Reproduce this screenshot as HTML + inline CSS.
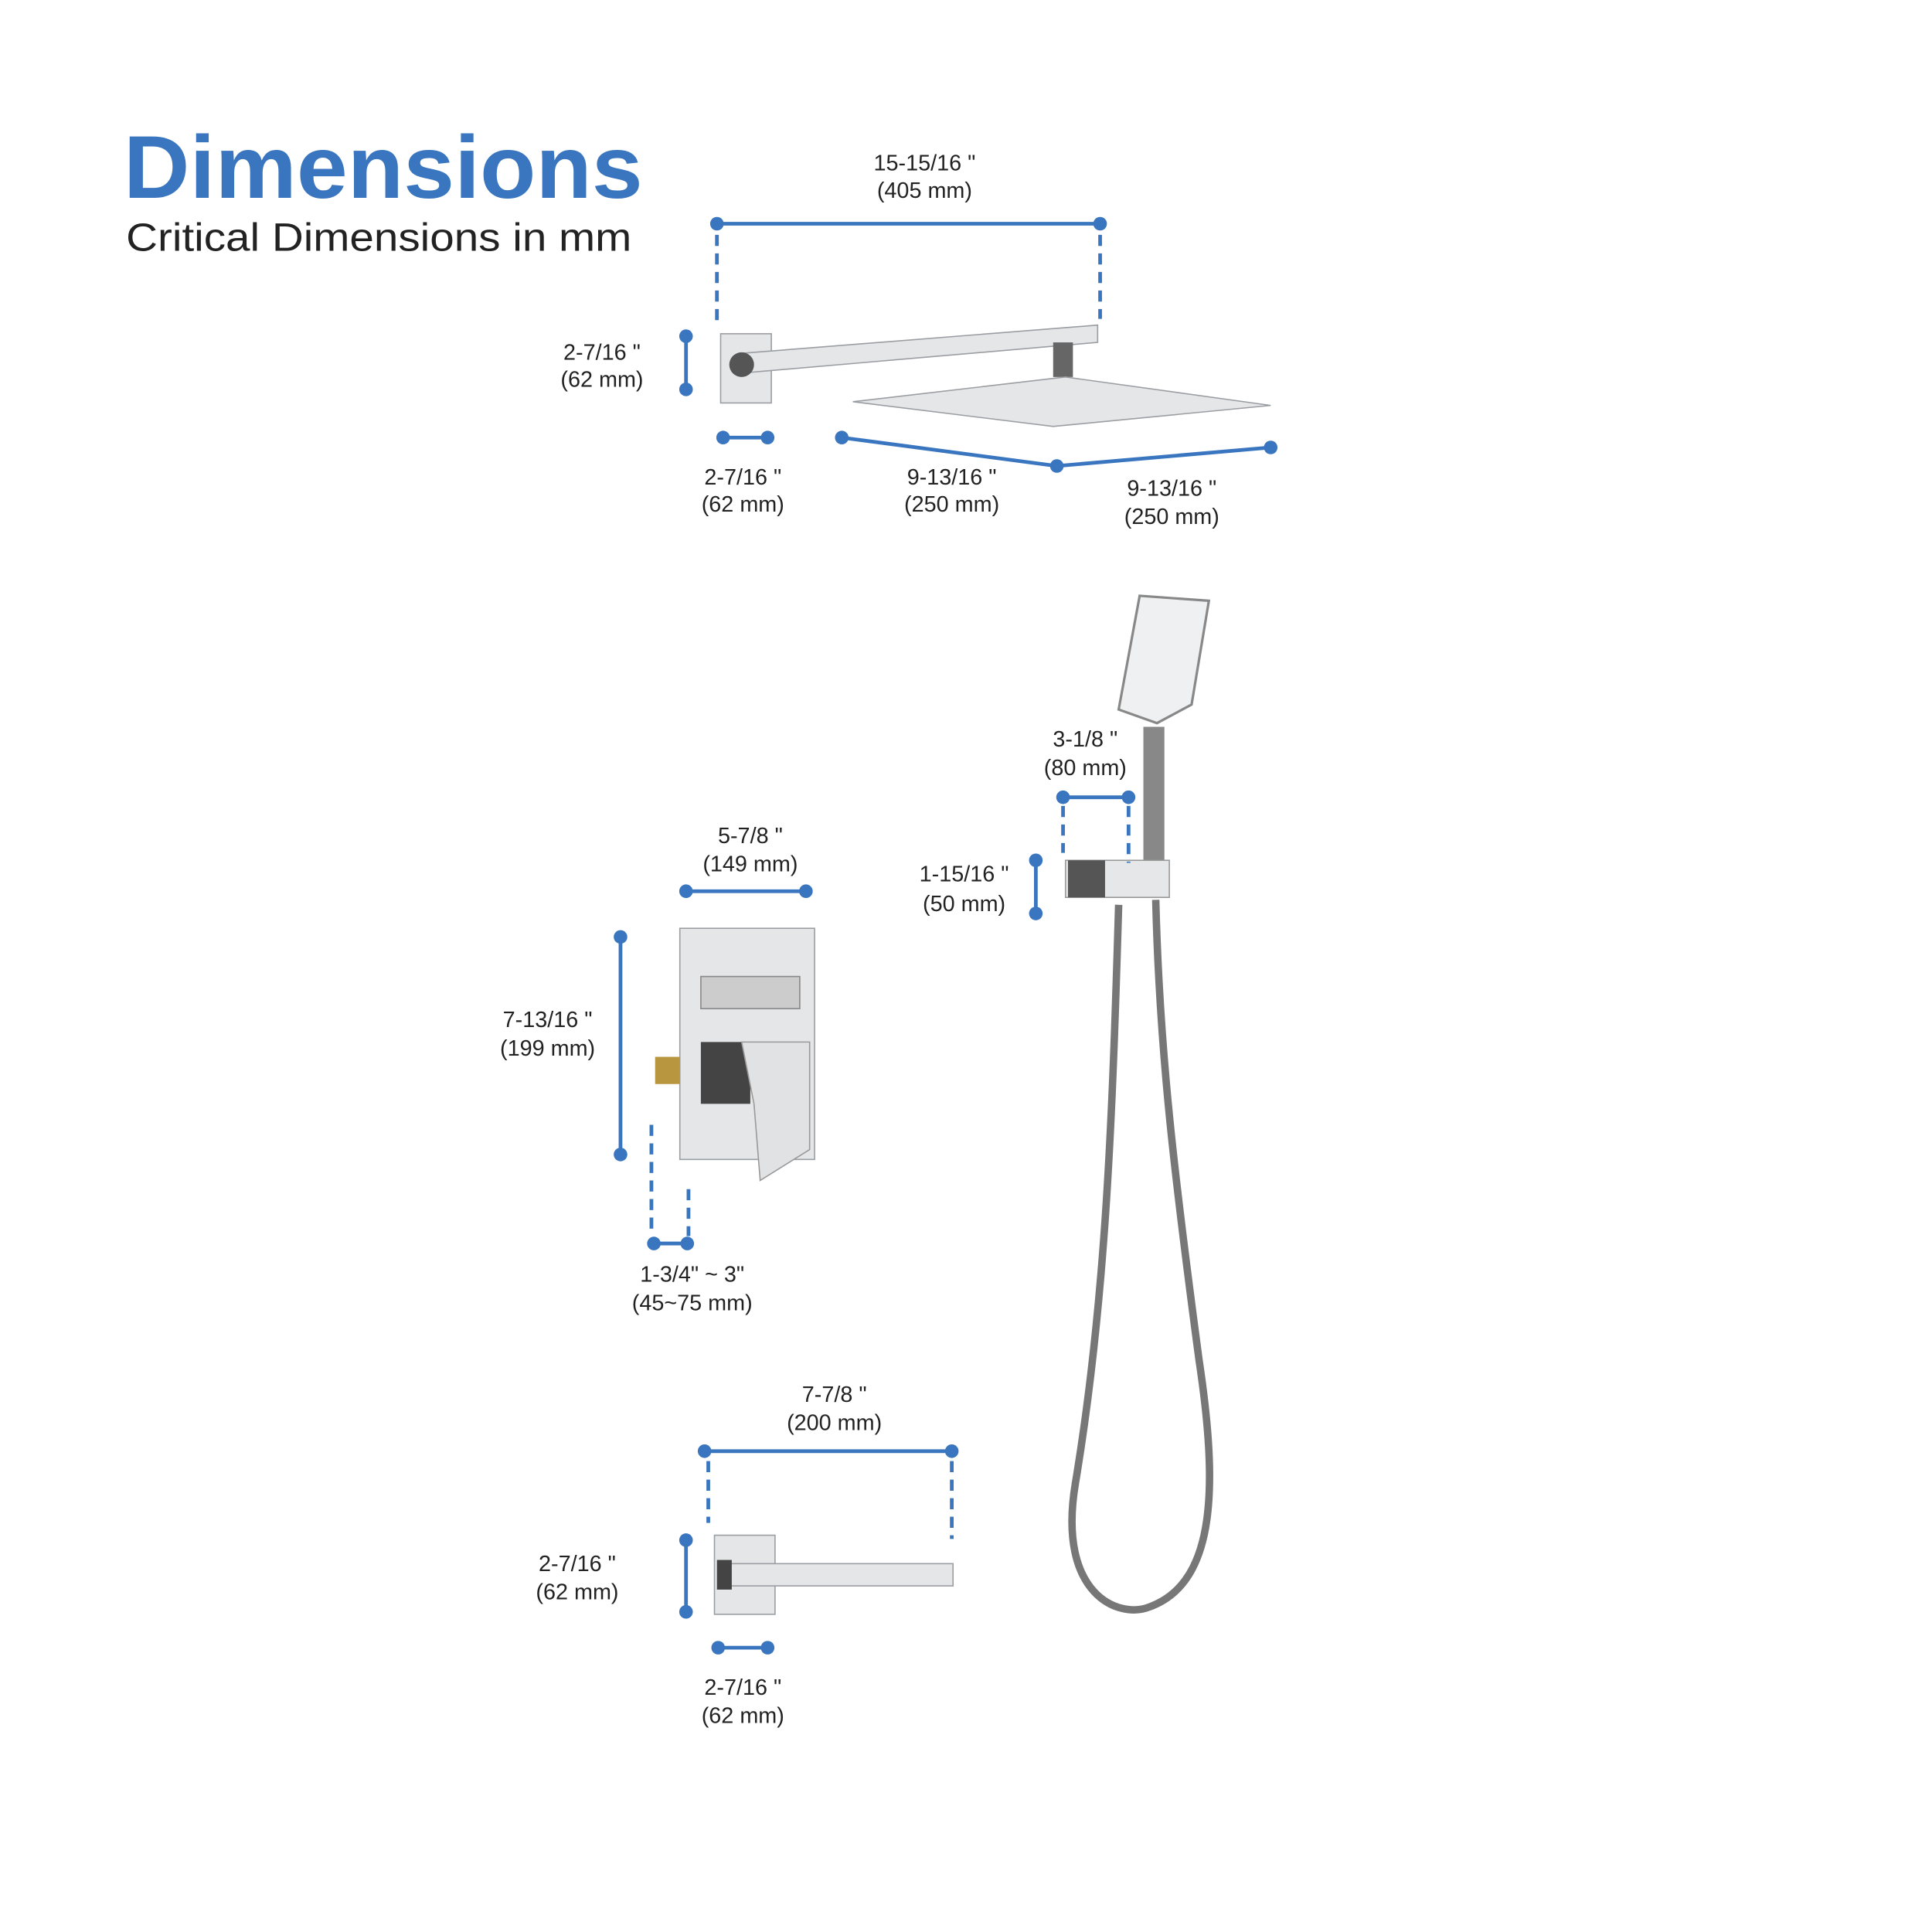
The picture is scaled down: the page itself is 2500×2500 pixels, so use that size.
<!DOCTYPE html>
<html><head><meta charset="utf-8"><style>
html,body{margin:0;padding:0;background:#fff;width:2500px;height:2500px;overflow:hidden}
svg{display:block}
text{font-family:"Liberation Sans",sans-serif}
.l{font-size:18px;fill:#222;text-anchor:middle}
.b{stroke:#3a76bf;stroke-width:3;fill:none}
.d{stroke:#3a76bf;stroke-width:3;fill:none;stroke-dasharray:9 6}
.dot{fill:#3a76bf}
.m{fill:#e4e6e8;stroke:#9a9ea2;stroke-width:1}
</style></head><body>
<svg width="2500" height="2500" viewBox="0 0 1563 1563" xmlns="http://www.w3.org/2000/svg">
<rect width="1563" height="1563" fill="#fff"/>
<text x="100" y="160" textLength="420" lengthAdjust="spacingAndGlyphs" style="font-size:72px;font-weight:bold;fill:#3a76bf">Dimensions</text>
<text x="102" y="203" textLength="409" lengthAdjust="spacingAndGlyphs" style="font-size:32px;fill:#222">Critical Dimensions in mm</text>

<!-- top shower -->
<line class="b" x1="580" y1="181" x2="890" y2="181"/>
<circle class="dot" cx="580" cy="181" r="5.5"/><circle class="dot" cx="890" cy="181" r="5.5"/>
<line class="d" x1="580" y1="190" x2="580" y2="260"/><line class="d" x1="890" y1="190" x2="890" y2="258"/>
<text class="l" x="748" y="138">15-15/16 "</text><text class="l" x="748" y="160">(405 mm)</text>
<line class="b" x1="555" y1="272" x2="555" y2="315"/>
<circle class="dot" cx="555" cy="272" r="5.5"/><circle class="dot" cx="555" cy="315" r="5.5"/>
<text class="l" x="487" y="291">2-7/16 "</text><text class="l" x="487" y="313">(62 mm)</text>
<line class="b" x1="585" y1="354" x2="621" y2="354"/>
<circle class="dot" cx="585" cy="354" r="5.5"/><circle class="dot" cx="621" cy="354" r="5.5"/>
<text class="l" x="601" y="392">2-7/16 "</text><text class="l" x="601" y="414">(62 mm)</text>
<polyline class="b" points="681,354 855,377 1028,362"/>
<circle class="dot" cx="681" cy="354" r="5.5"/><circle class="dot" cx="855" cy="377" r="5.5"/><circle class="dot" cx="1028" cy="362" r="5.5"/>
<text class="l" x="770" y="392">9-13/16 "</text><text class="l" x="770" y="414">(250 mm)</text>
<text class="l" x="948" y="401">9-13/16 "</text><text class="l" x="948" y="424">(250 mm)</text>
<rect class="m" x="583" y="270" width="41" height="56" fill="#f2f3f4"/>
<polygon class="m" points="598,286 888,263 888,277 598,302"/>
<circle cx="600" cy="295" r="10" fill="#555"/>
<rect x="852" y="277" width="16" height="28" fill="#666"/>
<polygon class="m" points="690,325 862,305 1028,328 852,345" fill="#d8dadc"/>

<!-- hand shower -->
<polygon points="922,482 978,486 964,570 936,585 905,574" fill="#eef0f2" stroke="#888" stroke-width="2"/>
<rect x="925" y="588" width="17" height="112" fill="#888"/>
<rect x="862" y="696" width="84" height="30" fill="#e6e7e8" stroke="#999"/>
<rect x="864" y="696" width="30" height="30" fill="#555"/>
<path d="M905,732 C900,900 895,1050 870,1200 C855,1290 905,1310 930,1300 C985,1280 985,1200 970,1100 C950,950 938,850 935,728" fill="none" stroke="#777" stroke-width="6"/>
<text class="l" x="878" y="604">3-1/8 "</text><text class="l" x="878" y="627">(80 mm)</text>
<line class="b" x1="860" y1="645" x2="913" y2="645"/>
<circle class="dot" cx="860" cy="645" r="5.5"/><circle class="dot" cx="913" cy="645" r="5.5"/>
<line class="d" x1="860" y1="652" x2="860" y2="690"/><line class="d" x1="913" y1="652" x2="913" y2="698"/>
<line class="b" x1="838" y1="696" x2="838" y2="739"/>
<circle class="dot" cx="838" cy="696" r="5.5"/><circle class="dot" cx="838" cy="739" r="5.5"/>
<text class="l" x="780" y="713">1-15/16 "</text><text class="l" x="780" y="737">(50 mm)</text>

<!-- valve -->
<rect class="m" x="550" y="751" width="109" height="187" fill="#f4f5f6"/>
<rect x="567" y="790" width="80" height="26" fill="#ccc" stroke="#888"/>
<rect x="567" y="843" width="40" height="50" fill="#444"/>
<polygon points="600,843 655,843 655,930 615,955 610,893" fill="#e0e2e4" stroke="#999"/>
<rect x="530" y="855" width="20" height="22" fill="#b8963f"/>
<text class="l" x="607" y="682">5-7/8 "</text><text class="l" x="607" y="705">(149 mm)</text>
<line class="b" x1="555" y1="721" x2="652" y2="721"/>
<circle class="dot" cx="555" cy="721" r="5.5"/><circle class="dot" cx="652" cy="721" r="5.5"/>
<line class="b" x1="502" y1="758" x2="502" y2="934"/>
<circle class="dot" cx="502" cy="758" r="5.5"/><circle class="dot" cx="502" cy="934" r="5.5"/>
<text class="l" x="443" y="831">7-13/16 "</text><text class="l" x="443" y="854">(199 mm)</text>
<line class="d" x1="527" y1="910" x2="527" y2="1000"/><line class="d" x1="557" y1="962" x2="557" y2="1000"/>
<line class="b" x1="529" y1="1006" x2="556" y2="1006"/>
<circle class="dot" cx="529" cy="1006" r="5.5"/><circle class="dot" cx="556" cy="1006" r="5.5"/>
<text class="l" x="560" y="1037">1-3/4" ~ 3"</text><text class="l" x="560" y="1060">(45~75 mm)</text>

<!-- spout -->
<rect class="m" x="578" y="1242" width="49" height="64" fill="#f2f3f4"/>
<rect class="m" x="590" y="1265" width="181" height="18" fill="#e8eaec"/>
<rect x="580" y="1262" width="12" height="24" fill="#444"/>
<text class="l" x="675" y="1134">7-7/8 "</text><text class="l" x="675" y="1157">(200 mm)</text>
<line class="b" x1="570" y1="1174" x2="770" y2="1174"/>
<circle class="dot" cx="570" cy="1174" r="5.5"/><circle class="dot" cx="770" cy="1174" r="5.5"/>
<line class="d" x1="573" y1="1182" x2="573" y2="1232"/><line class="d" x1="770" y1="1182" x2="770" y2="1245"/>
<line class="b" x1="555" y1="1246" x2="555" y2="1304"/>
<circle class="dot" cx="555" cy="1246" r="5.5"/><circle class="dot" cx="555" cy="1304" r="5.5"/>
<text class="l" x="467" y="1271">2-7/16 "</text><text class="l" x="467" y="1294">(62 mm)</text>
<line class="b" x1="581" y1="1333" x2="621" y2="1333"/>
<circle class="dot" cx="581" cy="1333" r="5.5"/><circle class="dot" cx="621" cy="1333" r="5.5"/>
<text class="l" x="601" y="1371">2-7/16 "</text><text class="l" x="601" y="1394">(62 mm)</text>
</svg>
</body></html>
